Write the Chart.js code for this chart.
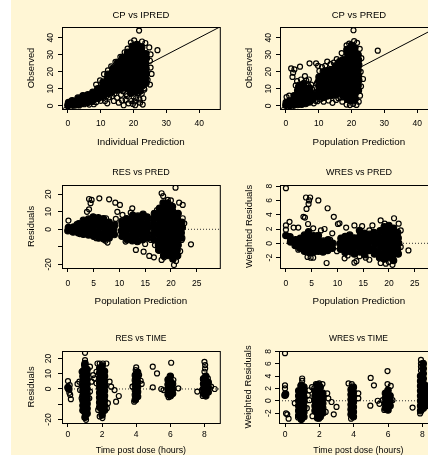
<!DOCTYPE html>
<html lang="en">
<head>
<meta charset="UTF-8">
<title>Goodness of fit plots</title>
<script src="https://cdn.jsdelivr.net/npm/chart.js"></script>
<style>
  body { margin: 0; width: 428px; height: 455px; overflow: hidden; position: relative; background: #fff; }
  #bg { position: absolute; left: 11px; top: 0; width: 417px; height: 455px; background: #fff6d5; }
  .panel { position: absolute; }
</style>
</head>
<body>
<div id="bg"></div>
<div class="panel" style="left:12px;top:3px"><canvas id="c1" width="213" height="146"></canvas></div>
<div class="panel" style="left:230px;top:3px"><canvas id="c2" width="213" height="146"></canvas></div>
<div class="panel" style="left:12px;top:161px"><canvas id="c3" width="213" height="147"></canvas></div>
<div class="panel" style="left:230px;top:161px"><canvas id="c4" width="213" height="147"></canvas></div>
<div class="panel" style="left:12px;top:327px"><canvas id="c5" width="213" height="136"></canvas></div>
<div class="panel" style="left:229px;top:327px"><canvas id="c6" width="214" height="136"></canvas></div>

<script>
// axis limits and ticks
const cpLims = [-1.8, 46.3];
const cpTicks = [0, 10, 20, 30, 40];
const predLims = [-1.15, 29.5];
const predTicks = [0, 5, 10, 15, 20, 25];
const timeLims = [-0.35, 8.9];
const timeTicks = [0, 2, 4, 6, 8];
const resLimsPred = [-22.1, 25.3];
const resLimsTime = [-22.3, 24.9];
const resTicks = [-20, -10, 0, 10, 20];
const resLabels = [-20, 0, 10, 20];
const wresLimsPred = [-3.45, 8.15];
const wresLimsTime = [-3.6, 8.05];
const wresTicks = [-2, 0, 2, 4, 6, 8];

// CP vs IPRED  [IPRED, CP]
const ipredDense = [[0,0.3],[0.2,2],[1.5,0.5],[1.3,3],[3,0.8],[2.8,3],[3.1,4.6],
  [4.5,1.5],[4.3,4],[4.6,6],[6,2],[5.8,4.5],[6.1,6.5],[7.5,3],[7.3,5.5],[7.6,8],
  [9,4.5],[8.8,7.3],[9.1,10],[10.5,5.5],[10.3,8.3],[10.6,11.3],[10.7,13.8],
  [12,7.3],[11.8,10.2],[12.1,13.2],[12,16.1],[12.2,18.6],
  [13.5,8.4],[13.3,11.2],[13.6,14],[13.4,16.8],[13.5,19.6],[13.7,22],
  [15,9.3],[14.8,12],[15.1,14.8],[15,17.6],[14.9,20.4],[15.1,23.1],[15.2,25.6],
  [16.5,10.4],[16.3,13.3],[16.6,16.3],[16.5,19.3],[16.4,22.3],[16.6,25.4],[16.7,28.5],
  [18,10.5],[17.8,13.4],[18.1,16.3],[18,19.3],[17.9,22.3],[18.1,25.3],[18,28.4],[18.2,31.4],
  [19.5,10.4],[19.3,13.5],[19.6,16.6],[19.5,19.7],[19.4,22.8],[19.6,25.9],[19.5,29],[19.4,32],[19.6,35],
  [21,11.3],[20.8,14.4],[21.1,17.5],[21,20.6],[20.9,23.7],[21.1,26.8],[21,29.9],[20.9,33],[21,36],
  [22.5,11.5],[22.3,14.4],[22.6,17.4],[22.5,20.4],[22.4,23.4],[22.6,26.4],[22.5,29.4],[22.4,32.3],[22.5,34.6],
  [23.8,13.4],[23.7,16.3],[23.9,19.2],[23.8,22.1],[23.7,25],[23.9,27.9],[23.8,30.6],
  [19.2,7.5],[20.6,8.3],[22,8.8]];
const ipredSparse = [[21.7,44.2],[19.2,37.2],[20.2,38.5],[22.6,37.8],[23.6,36.9],[24.8,34.3],[27.3,32.7],
  [25.2,30.2],[25,26.5],[25.2,22.5],[25.5,18.8],[25,12.5],[23.2,10.3],[24.3,15.3],[14.5,25.8],[13.2,23.2],
  [12.2,20.8],[11,18.6],[16,28.8],[17.3,31.5],[18.2,33.6],[9.8,15],[8.6,12.5],
  [5,1],[6.5,0.8],[7.9,1],[8.6,2.2],[10,3],[11.3,2.9],[12,1.5],[13,7.3],[13.5,5.8],[14,2.9],[15,4.8],
  [15.5,1.9],[16.2,6.5],[17,0.4],[17.6,3.5],[18,5.8],[18.8,8],[19.3,2.9],[19.8,1.2],[20.5,0.4],[20.8,4.6],
  [21.5,7.5],[22,1.9],[22.5,7.1],[23.3,9.6],[21,9.2],[16.8,8.6],[14.8,9.5],[12.5,5],[10.8,4.6],[9.3,4.1],
  [7.4,2.3],[3.5,0.3],[2.2,0.2],[0.3,0.2],[1.2,1.2],
  [16.5,3.2],[18.5,1.5],[20,5.5],[21.8,3.8],[23,4.5],[17.8,7],[14.2,7.2],[11.8,5.8],[20.3,2.6],[22.8,0.8]];

// CP vs PRED  [PRED, CP]
const predDense = [[0,0.4],[0.1,2],[1.2,0.3],[1.1,2.8],[2.4,0.5],[2.3,3.2],[2.5,6],[3.6,0.8],[3.5,3.6],
  [3.7,6.5],[3.6,9],[4.8,1],[4.7,3.8],[4.9,6.7],[4.8,9.6],[4.7,11.5],[6,1.4],[5.9,4.2],[6.1,7],[6,9.8],
  [7.2,2.3],[7.1,5],[7.3,7.8],[7.2,10.5],[8.3,4],[8.4,6.5],[5.4,12.8],[3.9,11.2],
  [10,5.5],[9.9,8.5],[10.1,11.5],[10,14.5],[10.1,17],
  [11.3,5],[11.2,8],[11.4,11],[11.3,14],[11.2,17],[11.4,20],
  [12.6,5.8],[12.5,8.8],[12.7,11.8],[12.6,14.8],[12.5,17.8],[12.7,20.8],
  [13.9,6.2],[13.8,9.2],[14,12.2],[13.9,15.2],[13.8,18.2],[14,21],
  [15.2,6.5],[15.1,9.5],[15.3,12.5],[15.2,15.5],[15.1,18.5],[15.3,21.5],[15.2,23.5],
  [16.4,8],[16.3,11],[16.5,14],[16.4,17],[16.3,20],[16.5,23],[16.4,26],
  [17.5,6],[17.4,9],[17.6,12],[17.5,15],[17.4,18],[17.6,21],[17.5,24],[17.4,27],
  [18.7,4],[18.6,7],[18.8,10],[18.7,13],[18.6,16],[18.8,19],[18.7,22],[18.6,25],[18.8,28],[18.7,31],[18.6,33],
  [19.9,3],[19.8,6],[20,9],[19.9,12],[19.8,15],[20,18],[19.9,21],[19.8,24],[20,27],[19.9,30],[19.8,33],[20,35.5],
  [21.1,4],[21,7],[21.2,10],[21.1,13],[21,16],[21.2,19],[21.1,22],[21,25],[21.2,28],[21.1,31],[21,34],
  [22.1,9],[22,12],[22.2,15],[22.1,18],[22,21],[22.2,24],[22.1,27],[22,30]];
const predSparse = [[0.2,5.2],[1.6,22],[2.2,19.5],[2.6,21.4],[2,17],[3.4,14.5],[4.3,23],[4.6,15.5],[5.5,13.5],
  [6.2,14.8],[7.2,25],[7,15.5],[7.7,12.5],[8.8,10.5],[9.2,25],[9.8,23.5],[5.8,17.5],[3,12],[8.5,1.5],[9,3],
  [1,6],[4,12.5],[6.8,12],[8,9.7],
  [10.2,20.5],[11,22.8],[12.6,26],[13.6,24.5],[14.6,25.4],[15.5,27.5],[9.6,2.8],[11.5,2.5],[13,3.2],[14.2,1.8],
  [15.3,3.5],[16,4.5],[10.5,3.8],[12,23.5],[9.5,13.5],
  [20.6,44.4],[21.7,37],[19.3,36.5],[18.5,35.5],[20.8,38],[22.5,33.5],[23,28],[23.5,15.8],[22.8,20],[22.9,11.5],
  [28,32.4],[17,31],[18.5,0.8],[19.5,0.5],[20.5,1.2],[21.5,0.6],[22.2,2.5],[17.2,2.5],[16.9,5],[22.6,6]];

// RES vs PRED  [PRED, RES]
const resPredDense = [[0,-0.8],[0.1,1],[1,-1.5],[1.1,1.3],[2,-2],[1.9,1],[2.1,3.2],
  [3,-2.8],[2.9,0.2],[3.1,3.2],[3,5.2],[4,-3.2],[3.9,-0.2],[4.1,2.8],[4,5.8],
  [5,-4],[4.9,-1],[5.1,2],[5,5],[4.9,7],[6,-5],[5.9,-2],[6.1,1],[6,4],[5.9,6.5],
  [7,-5.5],[6.9,-2.5],[7.1,0.5],[7,3.5],[6.9,6],[8,-5],[7.9,-2],[8.1,1],[8,4],[9,-3],[8.9,0],[9.1,2.5],
  [10.5,-4],[10.4,-1],[10.6,2],[10.5,4.5],[11.5,-6],[11.4,-3],[11.6,0],[11.5,3],[11.4,6],
  [12.5,-6.5],[12.4,-3.5],[12.6,-0.5],[12.5,2.5],[12.4,5.5],[12.6,8],
  [13.5,-7],[13.4,-4],[13.6,-1],[13.5,2],[13.4,5],[13.6,7.5],
  [14.5,-6],[14.4,-3],[14.6,0],[14.5,3],[14.4,6],[14.6,8.5],
  [15.5,-5],[15.4,-2],[15.6,1],[15.5,4],[15.4,7],
  [16.7,-6],[16.6,-3],[16.8,0],[16.7,3],[16.6,6],[16.8,9],
  [17.7,-12],[17.6,-9],[17.8,-6],[17.7,-3],[17.6,0],[17.8,3],[17.7,6],[17.6,9],[17.8,12],
  [18.6,-15],[18.5,-12],[18.7,-9],[18.6,-6],[18.5,-3],[18.7,0],[18.6,3],[18.5,6],[18.7,9],[18.6,12],[18.5,15],
  [19.5,-15],[19.4,-12],[19.6,-9],[19.5,-6],[19.4,-3],[19.6,0],[19.5,3],[19.4,6],[19.6,9],[19.5,12],[19.4,15],
  [20.4,-17],[20.3,-14],[20.5,-11],[20.4,-8],[20.3,-5],[20.5,-2],[20.4,1],[20.3,4],[20.5,7],[20.4,10],[20.3,13],
  [21.3,-15],[21.2,-12],[21.4,-9],[21.3,-6],[21.2,-3],[21.4,0],[21.3,3],[21.2,6],[21.4,9],
  [22.1,-5],[22,-2],[22.2,1],[22.1,4]];
const resPredSparse = [[0.1,5],[3.7,10],[4.1,17.3],[4.6,16.8],[4.4,14.9],[4.1,11.4],[6.1,17.7],[8,17.1],
  [9.2,15.2],[10.1,13.9],[9.6,10],[9.3,5.9],[7.4,6.3],[7.3,-6.5],[7.7,-7.6],[5.5,-5.1],[12.5,12],[12.2,9.5],
  [13.7,5.3],[13.2,-11.8],[14.7,-12.8],[15.8,-15.2],[16.7,-16],[15,-8.4],[16.1,-6.1],[10.6,8.2],[11.2,-7],
  [18.5,19],[18.2,20.6],[20.9,23.8],[19.4,16.8],[21.6,15.2],[22.3,13.9],[22.3,6.3],[22.6,3.4],[22.1,-6.1],
  [18.2,-17.5],[18.7,-16],[20.6,-20.4],[21,-18.1],[21.3,-15.6],[19.4,-14.7],[17.5,-11.8],[16.9,-9],
  [23.9,-8.6],[1.7,3],[2.3,-2.7],[17.3,11],[20,16.5],[21.8,-12.5]];

// WRES vs PRED  [PRED, WRES]
const wresPredDense = [[0,1.1],[0.9,0.2],[0.8,0.9],[1.8,-0.3],[1.9,0.5],[2.7,-0.7],[2.6,0],[2.8,0.7],
  [3.6,-1.1],[3.5,-0.35],[3.7,0.4],[3.6,1.15],[4.5,-1.3],[4.4,-0.55],[4.6,0.2],[4.5,0.95],[4.4,1.6],
  [5.4,-1.2],[5.3,-0.45],[5.5,0.3],[5.4,1.05],[6.3,-1.1],[6.2,-0.35],[6.4,0.4],[6.3,1.1],
  [7.2,-1.2],[7.1,-0.45],[7.3,0.3],[8.1,-1],[8,-0.25],[8.2,0.5],[9,-0.7],[9.1,0],
  [10.6,-0.8],[10.5,-0.05],[10.7,0.7],[11.5,-1.3],[11.4,-0.55],[11.6,0.2],[11.5,0.95],
  [12.4,-1.1],[12.3,-0.35],[12.5,0.4],[12.4,1.15],[13.3,-1.5],[13.2,-0.75],[13.4,0],[13.3,0.75],
  [14.4,-1.2],[14.3,-0.45],[14.5,0.3],[14.4,1.05],[14.3,1.8],[15.3,-1.6],[15.2,-0.85],[15.4,-0.1],[15.3,0.65],[15.2,1.4],
  [16.2,-1],[16.1,-0.25],[16.3,0.5],[16.2,1.25],[17.2,-1.5],[17.1,-0.75],[17.3,0],[17.2,0.75],[17.1,1.5],
  [18.2,-2],[18.1,-1.25],[18.3,-0.5],[18.2,0.25],[18.1,1],[18.3,1.75],
  [19.1,-2.2],[19,-1.45],[19.2,-0.7],[19.1,0.05],[19,0.8],[19.2,1.55],[19.1,2.3],
  [20,-2],[19.9,-1.25],[20.1,-0.5],[20,0.25],[19.9,1],[20.1,1.75],[20,2.5],
  [20.9,-2.4],[20.8,-1.65],[21,-0.9],[20.9,-0.15],[20.8,0.6],[21,1.35],[20.9,2.1],
  [21.8,-1.5],[21.7,-0.75],[21.9,0],[21.8,0.75],[21.7,1.5]];
const wresPredSparse = [[0,7.7],[0,2.5],[0,1.9],[0.7,3],[1.5,2.2],[2.4,2.2],[3.4,3.7],[3.9,6.4],[4.7,6.4],
  [4.5,6],[4.4,5.5],[4,4.8],[3.7,3.6],[4.3,2.7],[6.3,6],[8.1,4.9],[9.3,3.7],[10.1,2.7],[10.4,2.8],[6.8,1.8],
  [7.5,2],[5.3,2.1],[4.2,-1.9],[4.8,-2],[5.3,-2],[7.9,-2.75],[2.4,-0.9],[9.9,-1.1],[11.4,-2.1],[12,-1.7],
  [13.3,-2.7],[13.7,-2.5],[14.3,-1.8],[15.5,-2],[16.2,-2.3],[18.4,3.2],[19.2,2.75],[21,3.5],[21.9,2.75],
  [22.3,1.8],[22.3,-0.5],[21.9,-1.4],[23.8,-1],[18.4,-2.75],[19.4,-2.85],[20.7,-3],[20,-2.6],[11.7,2.2],
  [13.3,2.5],[14.8,2.4],[16.8,2.5],[16.2,1.8],[9,1.4],[8.6,0.5],[10.7,-0.9]];

// RES vs TIME  [TIME, RES]
const resTimeDense = [[0,1],[0.05,0],
  [0.88,-14],[0.88,-10.8],[0.88,-7.6],[0.88,-4.4],[0.88,-1.2],[0.88,2],[0.88,5.2],[0.88,8.4],[0.88,11.6],
  [1,-18.5],[1,-15.3],[1,-12.1],[1,-8.9],[1,-5.7],[1,-2.5],[1,0.7],[1,3.9],[1,7.1],[1,10.3],[1,13.5],[1,16.7],
  [1.12,-16],[1.12,-12.8],[1.12,-9.6],[1.12,-6.4],[1.12,-3.2],[1.12,0],[1.12,3.2],[1.12,6.4],[1.12,9.6],[1.12,12.8],
  [1.86,-12],[1.86,-8.8],[1.86,-5.6],[1.86,-2.4],[1.86,0.8],[1.86,4],[1.86,7.2],[1.86,10.4],[1.86,13.6],
  [2,-17],[2,-13.8],[2,-10.6],[2,-7.4],[2,-4.2],[2,-1],[2,2.2],[2,5.4],[2,8.6],[2,11.8],[2,15],
  [2.14,-14],[2.14,-10.8],[2.14,-7.6],[2.14,-4.4],[2.14,-1.2],[2.14,2],[2.14,5.2],[2.14,8.4],[2.14,11.6],
  [3.95,-7],[3.95,-3.8],[3.95,-0.6],[3.95,2.6],[3.95,5.8],[3.95,9],
  [4.08,-5],[4.08,-1.8],[4.08,1.4],[4.08,4.6],[4.08,7.8],[4.08,11],
  [5.87,-3.5],[5.87,-0.3],[5.87,2.9],[5.87,6.1],[6,-4.5],[6,-1.3],[6,1.9],[6,5.1],[6,8.3],
  [6.13,-3],[6.13,0.2],[6.13,3.4],
  [7.95,-3],[7.95,0.2],[7.95,3.4],[7.95,6.6],[8.08,-4.5],[8.08,-1.3],[8.08,1.9],[8.08,5.1],[8.08,8.3],
  [8.22,-2],[8.22,1.2],[8.22,4.4]];
const resTimeSparse = [[0,5.2],[0.13,-3.9],[0.17,-6.7],[0.08,-2.5],[0.1,2.5],
  [1,23.7],[1,18.9],[0.94,15.7],[0.8,11.3],[0.67,4.8],[0.56,3.3],[0.71,-0.7],[0.8,-6.1],[0.9,-13.7],
  [1,-18],[1.06,-20.2],[1.25,-6.1],[1.29,-1.7],[1.38,4.8],[1.48,9.1],[1.54,7],[1.67,11.3],[1.67,3.7],
  [1.29,14.6],[1.86,16.7],[2.05,16.7],[2.25,16.7],[1.73,16.7],[2.44,4.8],[2.53,1.5],[2.73,-0.7],[2.82,-8.3],
  [2.98,-4.6],[2.28,-12.6],[2.34,-9.3],[1.86,-18],[2.02,-19.1],[1.77,-13.7],
  [4.17,9.1],[3.97,12.4],[4,14.1],[4.26,5.4],[4.32,3.3],[3.78,1.5],[3.88,-8.3],
  [4.97,14.6],[5.22,10.2],[4.97,1.1],[6.05,17.2],[5.47,0],[5.6,-0.7],[6.47,0.4],[6.18,5.9],[5.9,-5.4],
  [7.58,-1.7],[8,17.8],[8.04,15.7],[8.04,13.5],[8,11.3],[8.2,7],[8.39,1.5],[7.85,-0.7],[7.9,-4.6],[8.6,0]];

// WRES vs TIME  [TIME, WRES]
const wresTimeDense = [[0,0.9],[0.03,1.1],
  [0.8,-2.4],[0.8,-1.6],[0.8,-0.8],[0.8,0],[0.8,0.8],[0.8,1.6],
  [0.95,-3],[0.95,-2.2],[0.95,-1.4],[0.95,-0.6],[0.95,0.2],[0.95,1],[0.95,1.8],[0.95,2.5],
  [1.1,-2.6],[1.1,-1.8],[1.1,-1],[1.1,-0.2],[1.1,0.6],[1.1,1.4],[1.1,2.2],
  [1.75,-1.6],[1.75,-0.8],[1.75,0],[1.75,0.8],[1.75,1.6],
  [1.9,-2.8],[1.9,-2],[1.9,-1.2],[1.9,-0.4],[1.9,0.4],[1.9,1.2],[1.9,2],[1.9,2.6],
  [2.05,-2.6],[2.05,-1.8],[2.05,-1],[2.05,-0.2],[2.05,0.6],[2.05,1.4],[2.05,2.2],
  [2.2,-2],[2.2,-1.2],[2.2,-0.4],[2.2,0.4],[2.2,1.2],
  [3.85,-2.2],[3.85,-1.4],[3.85,-0.6],[3.85,0.2],[3.85,1],[3.85,1.8],
  [3.98,-2.6],[3.98,-1.8],[3.98,-1],[3.98,-0.2],[3.98,0.6],[3.98,1.4],[3.98,2.2],
  [5.85,-1.2],[5.85,-0.4],[5.85,0.4],[5.85,1.2],[6,-1.5],[6,-0.7],[6,0.1],[6,0.9],[6,1.7],
  [6.12,-0.8],[6.12,0],[6.12,0.8],
  [7.9,-1.6],[7.9,-0.8],[7.9,0],[7.9,0.8],[7.9,1.6],[7.9,2.4],[7.9,3.2],[7.9,4],
  [8.05,-1.2],[8.05,-0.4],[8.05,0.4],[8.05,1.2],[8.05,2],[8.05,2.8],[8.05,3.6],[8.05,4.4],[8.05,5.2],[8.05,6],
  [8.2,-0.8],[8.2,0],[8.2,0.8],[8.2,1.6],[8.2,2.4]];
const wresTimeSparse = [[0,7.7],[0,2.5],[0,2],[0.06,-2.05],[0.13,-2.2],[0.21,-2.9],[1,3.6],[1,3.2],[0.9,2.4],
  [0.57,-0.4],[1.33,0.9],[1.42,1.7],[1.57,2.2],[1.7,2],[1.42,0.1],[1.27,-1.2],[0.95,-3],[0.76,-2.7],
  [1.99,2.8],[2.18,2.7],[1.8,2.7],[2.46,1.2],[2.52,0.4],[2.71,-0.2],[3,-1],[2.84,-2.2],[2.37,-1.8],
  [1.99,-2.9],[1.6,-2.5],[3.7,2.8],[3.89,2.7],[4.27,1.2],[4.27,0.4],[3.98,-2.5],[3.85,-2.9],
  [4.99,3.7],[5.18,2.5],[4.97,-0.8],[5.97,4.8],[5.97,2.7],[6.16,2.4],[5.69,0.1],[5.4,0],[5.5,-0.5],
  [6.26,0.1],[5.78,-1.5],[7.43,-1.1],[7.92,6.6],[7.92,6],[7.92,5.5],[7.92,4.9],[7.96,3.9],[7.87,-2.05]];

const ink = '#000';
const family = '"Liberation Sans", Arial, Helvetica, sans-serif';

const frame = {
  id: 'frame',
  afterDraw(chart) {
    const a = chart.chartArea, ctx = chart.ctx;
    ctx.save();
    ctx.strokeStyle = '#000';
    ctx.lineWidth = 1;
    ctx.strokeRect(a.left + 0.5, a.top + 0.5, a.right - a.left, a.bottom - a.top);
    ctx.restore();
  }
};

const xy = pts => pts.map(p => ({ x: p[0], y: p[1] }));

function panel(id, o) {
  const datasets = [];
  if (o.refLine) {
    datasets.push({ data: o.refLine, showLine: true, borderColor: o.dashed ? '#333' : '#000',
      borderWidth: 1, borderDash: o.dashed ? [1, 2] : [], pointRadius: 0, clip: 0, order: 3 });
  }
  datasets.push({ data: xy(o.sparse), pointRadius: 2.5, borderWidth: 1.2, borderColor: '#000',
    backgroundColor: 'rgba(0,0,0,0)', order: 2 });
  datasets.push({ data: xy(o.dense), pointRadius: 3.2, borderWidth: 1.2, borderColor: '#000',
    backgroundColor: '#000', order: 1 });

  const tickFont = { family, size: 8.5, lineHeight: '10px' };
  const grid = { display: true, drawOnChartArea: false, drawTicks: true, tickLength: 4, color: '#000' };

  new Chart(document.getElementById(id), {
    type: 'scatter',
    data: { datasets },
    plugins: [frame],
    options: {
      responsive: false,
      animation: false,
      events: [],
      layout: { padding: { left: 0, right: 2, top: 0, bottom: 0 } },
      plugins: {
        legend: { display: false },
        tooltip: { enabled: false },
        title: { display: true, text: o.title, fullSize: false, color: ink,
          font: { family, size: o.titleSize, weight: 'normal', lineHeight: '12px' },
          padding: { top: 6, bottom: 6 } }
      },
      scales: {
        x: {
          type: 'linear', min: o.xlim[0], max: o.xlim[1],
          afterBuildTicks: s => { s.ticks = o.xticks.map(v => ({ value: v })); },
          afterFit: s => { s.height = 40; },
          ticks: { font: tickFont, color: ink, padding: o.xTickPad, maxRotation: 0, autoSkip: false },
          grid, border: { display: false },
          title: { display: true, text: o.xlab, color: ink,
            font: { family, size: o.xlabSize, lineHeight: '12px' },
            padding: { top: 0, bottom: o.xlabPad } }
        },
        y: {
          type: 'linear', min: o.ylim[0], max: o.ylim[1],
          afterBuildTicks: s => { s.ticks = o.yticks.map(v => ({ value: v })); },
          afterFit: s => { s.width = 50; },
          ticks: { font: tickFont, color: ink, padding: 3, minRotation: 90, maxRotation: 90,
            crossAlign: 'center', autoSkip: false,
            callback: v => (o.ylabels ? (o.ylabels.includes(v) ? String(v) : '') : String(v)) },
          grid, border: { display: false },
          title: { display: true, text: o.ylab, color: ink,
            font: { family, size: 9.4, lineHeight: '12px' },
            padding: { top: 13, bottom: 0 } }
        }
      }
    }
  });
}

const row1 = { xTickPad: 6, xlabPad: 1, titleSize: 9.5, xlabSize: 9.8 };
const row2 = { xTickPad: 7, xlabPad: 1, titleSize: 9, xlabSize: 9.8 };
const row3 = { xTickPad: 3, xlabPad: 6, titleSize: 8.5, xlabSize: 8.8 };

panel('c1', Object.assign({}, row1, {
  title: 'CP vs IPRED', xlab: 'Individual Prediction', ylab: 'Observed',
  xlim: cpLims, ylim: cpLims, xticks: cpTicks, yticks: cpTicks,
  dense: ipredDense, sparse: ipredSparse, refLine: cpLims.map(v => ({ x: v, y: v }))
}));
panel('c2', Object.assign({}, row1, {
  title: 'CP vs PRED', xlab: 'Population Prediction', ylab: 'Observed',
  xlim: cpLims, ylim: cpLims, xticks: cpTicks, yticks: cpTicks,
  dense: predDense, sparse: predSparse, refLine: cpLims.map(v => ({ x: v, y: v }))
}));
panel('c3', Object.assign({}, row2, {
  title: 'RES vs PRED', xlab: 'Population Prediction', ylab: 'Residuals',
  xlim: predLims, ylim: resLimsPred, xticks: predTicks, yticks: resTicks, ylabels: resLabels,
  dense: resPredDense, sparse: resPredSparse, dashed: true, refLine: predLims.map(v => ({ x: v, y: 0 }))
}));
panel('c4', Object.assign({}, row2, {
  title: 'WRES vs PRED', xlab: 'Population Prediction', ylab: 'Weighted Residuals',
  xlim: predLims, ylim: wresLimsPred, xticks: predTicks, yticks: wresTicks,
  dense: wresPredDense, sparse: wresPredSparse, dashed: true, refLine: predLims.map(v => ({ x: v, y: 0 }))
}));
panel('c5', Object.assign({}, row3, {
  title: 'RES vs TIME', xlab: 'Time post dose (hours)', ylab: 'Residuals',
  xlim: timeLims, ylim: resLimsTime, xticks: timeTicks, yticks: resTicks, ylabels: resLabels,
  dense: resTimeDense, sparse: resTimeSparse, dashed: true, refLine: timeLims.map(v => ({ x: v, y: 0 }))
}));
panel('c6', Object.assign({}, row3, {
  title: 'WRES vs TIME', xlab: 'Time post dose (hours)', ylab: 'Weighted Residuals',
  xlim: timeLims, ylim: wresLimsTime, xticks: timeTicks, yticks: wresTicks,
  dense: wresTimeDense, sparse: wresTimeSparse, dashed: true, refLine: timeLims.map(v => ({ x: v, y: 0 }))
}));
</script>
</body>
</html>
